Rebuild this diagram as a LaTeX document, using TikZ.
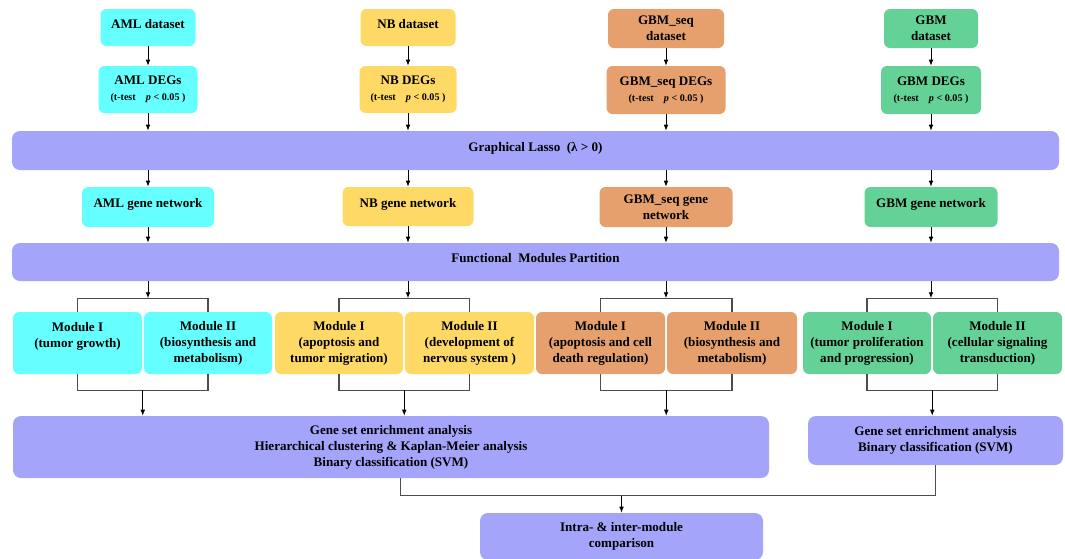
\documentclass[tikz,border=0pt]{standalone}
\usepackage{fontspec}
\setmainfont{Liberation Serif}
\usepackage{tikz}
\usetikzlibrary{arrows.meta,positioning,calc}
\definecolor{Aqua}{HTML}{66FFFF}
\definecolor{Sand}{HTML}{FFD966}
\definecolor{Peach}{HTML}{E6A06E}
\definecolor{Mint}{HTML}{64D296}
\definecolor{Lilac}{HTML}{A4A4FA}
\newcommand{\ttestp}{{\fontsize{7.6}{9}\selectfont (t-test\quad\textit{p} < 0.05 )}}

\begin{document}
\begin{tikzpicture}[x=0.75pt,y=-0.75pt,
  box/.style={rounded corners=4.5pt,align=center,inner sep=2pt,font=\fontsize{9.8}{12}\selectfont\bfseries},
  bar/.style={box,fill=Lilac,rounded corners=6pt},
  wh/.style 2 args={minimum width=#1*0.75pt,minimum height=#2*0.75pt},
  arr/.style={-{Latex[length=4.5pt,width=3.5pt]},line width=0.7pt},
  link/.style={line width=0.8pt,black!70}]
  \useasboundingbox (0,0) rectangle (1065,558);
  \node[box,fill=Aqua,wh={95}{37}] (amlset) at (148,27.5) {AML dataset\\[-6pt]};
  \node[box,fill=Sand,wh={95}{37}] (nbset) at (408,27.5) {NB dataset\\[-6pt]};
  \node[box,fill=Peach,wh={116}{39}] (gsset) at (666,28.5) {GBM\_seq\\dataset};
  \node[box,fill=Mint,wh={94}{39}] (gbset) at (931,28.5) {GBM\\dataset};
  \node[box,fill=Aqua,wh={99}{47}] (amldeg) at (148,89.5) {AML DEGs\\\ttestp};
  \node[box,fill=Sand,wh={97}{47}] (nbdeg) at (408,89.5) {NB DEGs\\\ttestp};
  \node[box,fill=Peach,wh={119}{48}] (gsdeg) at (666,90) {GBM\_seq DEGs\\\ttestp};
  \node[box,fill=Mint,wh={100}{48}] (gbdeg) at (931,90) {GBM DEGs\\\ttestp};
  \node[bar,wh={1047}{39}] (lasso) at (535.5,150.5) {Graphical Lasso\ \ (λ > 0)\\[-6pt]};
  \node[box,fill=Aqua,wh={132}{40}] (amlnet) at (148,207) {AML gene network\\[-6pt]};
  \node[box,fill=Sand,wh={131}{39}] (nbnet) at (408,206.5) {NB gene network\\[-6pt]};
  \node[box,fill=Peach,wh={133}{40}] (gsnet) at (666,207) {GBM\_seq gene\\network};
  \node[box,fill=Mint,wh={133}{40}] (gbnet) at (931,207) {GBM gene network\\[-6pt]};
  \node[bar,wh={1047}{38}] (part) at (535.5,262) {Functional\ \ Modules Partition\\[-6pt]};
  \node[box,fill=Aqua,wh={129}{62}] (aml1) at (77.5,343) {Module I\\(tumor growth)\\~};
  \node[box,fill=Aqua,wh={128}{62}] (aml2) at (208,343) {Module II\\(biosynthesis and\\metabolism)};
  \node[box,fill=Sand,wh={128}{62}] (nb1) at (339,343) {Module I\\(apoptosis and\\tumor migration)};
  \node[box,fill=Sand,wh={129}{62}] (nb2) at (469.5,343) {Module II\\(development of\\nervous system )};
  \node[box,fill=Peach,wh={129}{62}] (gs1) at (600.5,343) {Module I\\(apoptosis and cell\\death regulation)};
  \node[box,fill=Peach,wh={130}{62}] (gs2) at (732,343) {Module II\\(biosynthesis and\\metabolism)};
  \node[box,fill=Mint,wh={128}{62}] (gb1) at (867,343) {Module I\\(tumor proliferation\\and progression)};
  \node[box,fill=Mint,wh={129}{62}] (gb2) at (997.5,343) {Module II\\(cellular signaling\\transduction)};
  \node[bar,wh={756}{62}] (gsea3) at (391,447) {Gene set enrichment analysis\\Hierarchical clustering \& Kaplan-Meier analysis\\Binary classification (SVM)};
  \node[bar,wh={255}{49}] (gsea1) at (935.5,440.5) {Gene set enrichment analysis\\Binary classification (SVM)};
  \node[bar,wh={283}{47}] (comp) at (621.5,536.5) {Intra- \& inter-module\\comparison};
  \foreach \c in {aml,nb,gs,gb}{
    \draw[arr] (\c set) -- (\c deg);
    \draw[arr] (\c deg) -- (\c deg.south |- lasso.north);
    \draw[arr] (\c net.north |- lasso.south) -- (\c net);
    \draw[arr] (\c net) -- (\c net.south |- part.north);
    \coordinate (\c top) at ($(\c net.south |- part.south)+(0,17)$);
    \coordinate (\c bot) at ($(\c 1.south)!0.5!(\c 2.south)+(0,16)$);
    \draw[arr] (\c net.south |- part.south) -- (\c top);
    \draw[link] (\c 1.north) |- (\c top) -| (\c 2.north);
    \draw[link] (\c 1.south) |- (\c bot) -| (\c 2.south);
  }
  \foreach \c in {aml,nb,gs}
    \draw[arr] (\c bot) -- (\c bot |- gsea3.north);
  \draw[arr] (gbbot) -- (gbbot |- gsea1.north);
  \coordinate (join) at ($(comp.north)+(0,-17)$);
  \draw[link] ([xshift=7pt]gsea3.south) |- (join) -| (gsea1.south);
  \draw[arr] (join) -- (comp);
\end{tikzpicture}
\end{document}
